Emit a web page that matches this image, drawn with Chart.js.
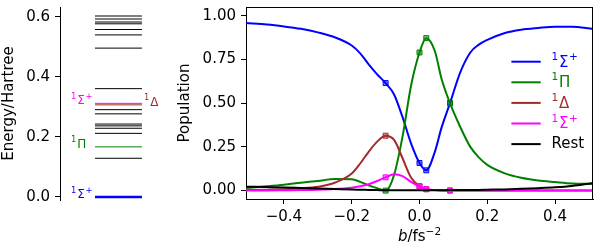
<!DOCTYPE html>
<html><head><meta charset="utf-8">
<script src="https://cdn.jsdelivr.net/npm/chart.js@4.4.0/dist/chart.umd.min.js"></script>
<style>
html,body{margin:0;padding:0;background:#fff;}
#wrap{position:relative;width:600px;height:250px;overflow:hidden;}
#c1{position:absolute;left:0;top:0;}
#c2{position:absolute;left:170px;top:0;}
</style></head><body>
<div id="wrap"><canvas id="c1" width="170" height="250"></canvas><canvas id="c2" width="430" height="250"></canvas></div>
<script>
// ---------- Data: left panel (energy levels, Hartree) ----------
const levelEnergies = [0.0, 0.129, 0.167, 0.212, 0.229, 0.237, 0.243, 0.277, 0.291, 0.307, 0.312, 0.361, 0.496, 0.540, 0.558, 0.577, 0.583, 0.593, 0.603];
const levelStates   = ['S1', '', 'P', '', '', '', '', '', '', 'D', 'S2', '', '', '', '', '', '', '', ''];
const energyTicks = [0.0, 0.2, 0.4, 0.6];

// ---------- Data: right panel (populations vs chirp b) ----------
const bGrid     = [-0.512,-0.45,-0.4,-0.35,-0.3,-0.25,-0.2,-0.175,-0.15,-0.125,-0.1,-0.075,-0.05,-0.025,0,0.02,0.045,0.065,0.09,0.12,0.15,0.175,0.2,0.25,0.3,0.35,0.4,0.45,0.512];
const popSigma1 = [0.958,0.950,0.939,0.925,0.905,0.877,0.830,0.785,0.722,0.665,0.615,0.550,0.420,0.270,0.158,0.116,0.220,0.360,0.500,0.675,0.790,0.835,0.862,0.900,0.920,0.930,0.937,0.937,0.924];
const popPi     = [0.015,0.025,0.034,0.045,0.055,0.066,0.065,0.050,0.030,0.014,0.000,0.090,0.310,0.600,0.790,0.872,0.800,0.640,0.500,0.365,0.250,0.190,0.147,0.100,0.073,0.058,0.049,0.041,0.038];
const popDelta  = [0.003,0.005,0.008,0.013,0.022,0.045,0.098,0.155,0.222,0.280,0.314,0.290,0.185,0.075,0.025,0.008,0.003,0.002,0.001,0,0,0,0,0,0,0,0,0,0];
const popSigma2 = [0.000,0.001,0.002,0.003,0.005,0.009,0.017,0.025,0.036,0.055,0.076,0.093,0.083,0.050,0.025,0.008,0.003,0.001,0.000,0,0,0,0,0,0,0,0,0,0];
const popRest   = [0.022,0.020,0.018,0.015,0.012,0.009,0.006,0.005,0.004,0.003,0.002,0.002,0.002,0.002,0.002,0.002,0.002,0.002,0.003,0.003,0.004,0.004,0.005,0.007,0.010,0.014,0.019,0.027,0.044];
const markerB   = [-0.1, 0, 0.02, 0.09];
const seriesLabels = ['\u00B9\u03A3\u207A', '\u00B9\u03A0', '\u00B9\u0394', '\u00B9\u03A3\u207A', 'Rest'];
const bTicks   = [-0.4, -0.2, 0.0, 0.2, 0.4];
const popTicks = [0.00, 0.25, 0.50, 0.75, 1.00];

// ---------- Styles ----------
const COLORS = {S1:'#0000ff', P:'#008000', D:'#a52a2a', S2:'#ff00ff', R:'#000000'};
const seriesColors = [COLORS.S1, COLORS.P, COLORS.D, COLORS.S2, COLORS.R];
const FONT = "'DejaVu Sans', sans-serif";
Chart.defaults.font.family = FONT;
Chart.defaults.font.size = 15;
Chart.defaults.color = '#000';
Chart.defaults.animation = false;
const fmt = (v, d) => (Math.abs(v) < 1e-12 ? 0 : v).toFixed(d).replace('-', '\u2212');

// draw a term symbol like ^1Sigma^+ with raised, smaller superscripts
function drawTerm(ctx, label, x, yMid, size){
  const sup = size * 0.7, rise = size * 0.38;
  const chars = Array.from(label);
  let cx = x;
  ctx.textBaseline = 'middle'; ctx.textAlign = 'left';
  chars.forEach(ch => {
    let s = size, dy = 0, t = ch;
    if (ch === '\u00B9') { s = sup; dy = -rise; t = '1'; }
    else if (ch === '\u207A') { s = sup; dy = -rise; t = '+'; }
    ctx.font = s + 'px ' + FONT;
    ctx.fillText(t, cx, yMid + dy);
    cx += ctx.measureText(t).width + (s === sup ? 1 : 0.5);
  });
}

// ---------- Left panel ----------
const LINE_X0 = 0.318, LINE_X1 = 0.745;
function levelColor(s){ return s ? COLORS[s] : '#000'; }
function levelWidth(s){ return s === 'S1' ? 2.6 : 1; }

const stateLabels = {
  id: 'stateLabels',
  afterDatasetsDraw(chart){
    const {ctx} = chart; const y = chart.scales.y;
    ctx.save();
    levelEnergies.forEach((e, i) => {
      const s = levelStates[i]; if (!s) return;
      const py = y.getPixelForValue(e) - 2;
      ctx.fillStyle = COLORS[s];
      if (s === 'S1' || s === 'S2') drawTerm(ctx, '\u00B9\u03A3\u207A', 71, py, 12);
      else if (s === 'P') drawTerm(ctx, '\u00B9\u03A0', 71, py, 12);
      else if (s === 'D') drawTerm(ctx, '\u00B9\u0394', 144, py, 12);
    });
    ctx.restore();
  }
};

new Chart(document.getElementById('c1'), {
  type: 'line',
  data: { datasets: levelEnergies.map((e, i) => ({
    data: [{x: LINE_X0, y: e}, {x: LINE_X1, y: e}],
    borderColor: levelColor(levelStates[i]),
    borderWidth: levelWidth(levelStates[i]),
    pointRadius: 0,
    order: levelStates[i] === 'S2' ? 0 : (levelStates[i] ? 1 : 2)
  })) },
  options: {
    responsive: false, animation: false,
    layout: { padding: { top: 7, bottom: 50, left: 0, right: 0 } },
    plugins: { legend: { display: false }, tooltip: { enabled: false } },
    scales: {
      x: { type: 'linear', display: false, min: 0, max: 1 },
      y: { type: 'linear', min: -0.01, max: 0.633,
        afterBuildTicks: s => { s.ticks = energyTicks.map(v => ({value: v})); },
        afterFit: s => { s.width = 60; s.paddingTop = 0; s.paddingBottom = 0; },
        ticks: { callback: v => fmt(v, 1), padding: 5, color: '#000' },
        grid: { drawOnChartArea: false, drawTicks: true, tickLength: 5, color: '#000' },
        border: { display: true, color: '#000', width: 1 },
        title: { display: true, text: 'Energy/Hartree', padding: { top: 0, bottom: 0 } }
      }
    }
  },
  plugins: [stateLabels]
});

// ---------- Right panel ----------
const frameLegend = {
  id: 'frameLegend',
  afterDraw(chart){
    const {ctx, chartArea: a} = chart;
    ctx.save();
    ctx.strokeStyle = '#000'; ctx.lineWidth = 1;
    ctx.beginPath();
    ctx.moveTo(a.left, a.top + 0.5); ctx.lineTo(a.right, a.top + 0.5);
    ctx.moveTo(a.right - 0.5, a.top); ctx.lineTo(a.right - 0.5, a.bottom);
    ctx.stroke();
    // legend
    const x0 = a.right - 81.6, x1 = a.right - 52.3, tx = a.right - 41.6;
    seriesLabels.forEach((lab, i) => {
      const y = a.top + 54.7 + i * 20.6;
      ctx.strokeStyle = seriesColors[i]; ctx.lineWidth = 2;
      ctx.beginPath(); ctx.moveTo(x0, y); ctx.lineTo(x1, y); ctx.stroke();
      ctx.fillStyle = seriesColors[i];
      if (lab === 'Rest') { ctx.font = '15px ' + FONT; ctx.textBaseline = 'middle'; ctx.textAlign = 'left'; ctx.fillText(lab, tx, y); }
      else drawTerm(ctx, lab, tx, y + 1, 15);
    });
    // x axis title: italic b / fs^-2
    const cx = (a.left + a.right) / 2, by = 241;
    const f1 = 'italic 15px ' + FONT, f2 = '15px ' + FONT, f3 = '10.5px ' + FONT;
    ctx.fillStyle = '#000'; ctx.textBaseline = 'alphabetic'; ctx.textAlign = 'left';
    ctx.font = f1; const w1 = ctx.measureText('b').width;
    ctx.font = f2; const w2 = ctx.measureText('/fs').width;
    ctx.font = f3; const w3 = ctx.measureText('\u22122').width;
    let x = cx - (w1 + w2 + w3) / 2;
    ctx.font = f1; ctx.fillText('b', x, by); x += w1;
    ctx.font = f2; ctx.fillText('/fs', x, by); x += w2;
    ctx.font = f3; ctx.fillText('\u22122', x, by - 6.5);
    ctx.restore();
  }
};

const popSeries = [popSigma1, popPi, popDelta, popSigma2, popRest];
const withAlpha = (hex, a) => {
  const n = parseInt(hex.slice(1), 16);
  return `rgba(${(n>>16)&255},${(n>>8)&255},${n&255},${a})`;
};

new Chart(document.getElementById('c2'), {
  type: 'line',
  data: { datasets: popSeries.map((vals, i) => ({
    label: seriesLabels[i],
    data: bGrid.map((b, j) => ({x: b, y: vals[j]})),
    borderColor: seriesColors[i],
    borderWidth: 2,
    cubicInterpolationMode: 'monotone',
    pointStyle: 'rect',
    pointRadius: ctx => (i < 4 && markerB.includes(bGrid[ctx.dataIndex])) ? 3.5 : 0,
    pointBorderColor: seriesColors[i],
    pointBackgroundColor: withAlpha(seriesColors[i], 0.5),
    pointBorderWidth: 1,
    order: 5 - i
  })) },
  options: {
    responsive: false, animation: false,
    layout: { padding: { top: 7, right: 7, left: 0, bottom: 0 } },
    plugins: { legend: { display: false }, tooltip: { enabled: false } },
    scales: {
      x: { type: 'linear', min: -0.512, max: 0.512,
        afterBuildTicks: s => { s.ticks = bTicks.map(v => ({value: v})); },
        afterFit: s => { s.height = 51; s.paddingLeft = 0; s.paddingRight = 0; },
        ticks: { callback: v => fmt(v, 1), padding: 4, maxRotation: 0, autoSkip: false },
        grid: { drawOnChartArea: false, drawTicks: true, tickLength: 5, color: '#000' },
        border: { display: true, color: '#000', width: 1 }
      },
      y: { type: 'linear', min: -0.048, max: 1.05,
        afterBuildTicks: s => { s.ticks = popTicks.map(v => ({value: v})); },
        afterFit: s => { s.width = 76; s.paddingTop = 0; s.paddingBottom = 0; },
        ticks: { callback: v => fmt(v, 2), padding: 5 },
        grid: { drawOnChartArea: false, drawTicks: true, tickLength: 5, color: '#000' },
        border: { display: true, color: '#000', width: 1 },
        title: { display: true, text: 'Population', padding: { top: 6, bottom: 0 } }
      }
    }
  },
  plugins: [frameLegend]
});
</script>
</body></html>
